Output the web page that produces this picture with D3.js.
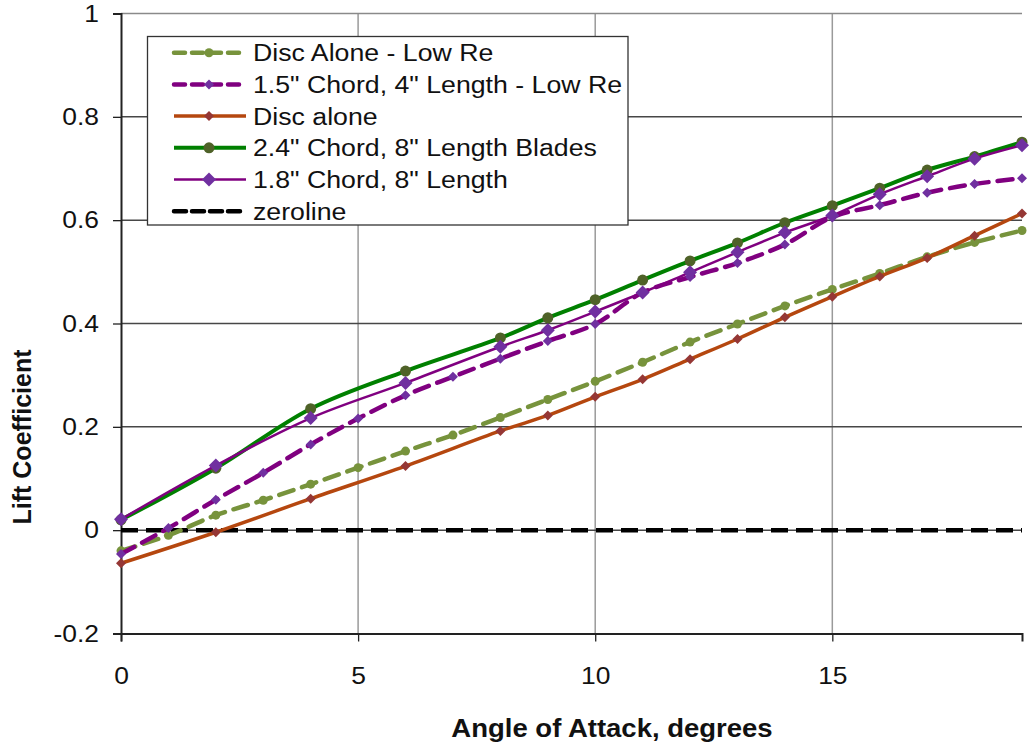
<!DOCTYPE html>
<html>
<head>
<meta charset="utf-8">
<script src="https://cdn.jsdelivr.net/npm/d3@7"></script>
<style>
  html, body { margin: 0; padding: 0; background: #fff; }
  svg { display: block; font-family: "Liberation Sans", Arial, sans-serif; }
</style>
</head>
<body>
<svg id="chart" width="1029" height="750"></svg>
<script>
// Angle of attack (degrees) for each measurement
const angles = [0, 1, 2, 3, 4, 5, 6, 7, 8, 9, 10, 11, 12, 13, 14, 15, 16, 17, 18, 19];

// Lift coefficient per configuration (null = not measured at that angle)
const discAloneLowRe = [-0.040, -0.010, 0.029, 0.058, 0.089, 0.121, 0.153, 0.184, 0.218, 0.253,
                        0.288, 0.325, 0.364, 0.399, 0.434, 0.466, 0.497, 0.529, 0.557, 0.580];
const chord15Len4LowRe = [-0.046, 0.004, 0.059, 0.111, 0.166, 0.216, 0.261, 0.297, 0.332, 0.366,
                          0.399, 0.460, 0.490, 0.517, 0.553, 0.606, 0.629, 0.653, 0.670, 0.681];
const discAlone = [-0.064, null, -0.004, null, 0.061, null, 0.124, null, 0.192, 0.222,
                   0.258, 0.292, 0.331, 0.370, 0.412, 0.452, 0.491, 0.527, 0.570, 0.613];
const chord24Len8 = [0.020, null, 0.120, null, 0.235, null, 0.308, null, 0.372, 0.411,
                     0.446, 0.484, 0.521, 0.556, 0.595, 0.628, 0.662, 0.697, 0.723, 0.751];
const chord18Len8 = [0.021, null, 0.125, null, 0.217, null, 0.285, null, 0.355, 0.387,
                     0.423, 0.460, 0.499, 0.538, 0.576, 0.609, 0.650, 0.685, 0.719, 0.745];
const zeroline = [0, 0, 0, 0, 0, 0, 0, 0, 0, 0, 0, 0, 0, 0, 0, 0, 0, 0, 0, 0];

const seriesNames = [
  "Disc Alone - Low Re",
  "1.5\" Chord, 4\" Length - Low Re",
  "Disc alone",
  "2.4\" Chord, 8\" Length Blades",
  "1.8\" Chord, 8\" Length",
  "zeroline"
];
const seriesValues = [discAloneLowRe, chord15Len4LowRe, discAlone, chord24Len8, chord18Len8, zeroline];

const xTicks = [0, 5, 10, 15];
const yTicks = [-0.2, 0, 0.2, 0.4, 0.6, 0.8, 1];
const yTickLabels = ["-0.2", "0", "0.2", "0.4", "0.6", "0.8", "1"];

// Styling for each series, same order as seriesNames
const styles = [
  { stroke: "#77933C", width: 4.5, dash: "15,9", cap: "round", marker: "circle",  mfill: "#77933C", msize: 4.5 },
  { stroke: "#800080", width: 4.5, dash: "15,9", cap: "round", marker: "diamond", mfill: "#7030A0", msize: 5 },
  { stroke: "#B5470F", width: 3.5, dash: null,   cap: "butt",  marker: "diamond", mfill: "#953735", msize: 5 },
  { stroke: "#008000", width: 4,   dash: null,   cap: "butt",  marker: "circle",  mfill: "#4F6228", msize: 5.5 },
  { stroke: "#800080", width: 2.5, dash: null,   cap: "butt",  marker: "diamond", mfill: "#7030A0", msize: 7 },
  { stroke: "#000000", width: 4.5, dash: "17,8", cap: "butt",  marker: null }
];

// Text in this chart is drawn slightly wide
const WIDE = 1.1;

const svg = d3.select("#chart");
const x = d3.scaleLinear().domain([0, 19]).range([121, 1022]);
const y = d3.scaleLinear().domain([-0.2, 1]).range([633.5, 13.5]);

// Gridlines
const grid = svg.append("g");
grid.selectAll("line.v").data(xTicks.filter(d => d > 0)).join("line")
  .attr("x1", d => x(d)).attr("x2", d => x(d))
  .attr("y1", y(1)).attr("y2", y(-0.2))
  .attr("stroke", "#9a9a9a").attr("stroke-width", 1.5);
grid.selectAll("line.h").data(yTicks.filter(d => d > -0.2)).join("line")
  .attr("x1", x(0)).attr("x2", x(19))
  .attr("y1", d => y(d)).attr("y2", d => y(d))
  .attr("stroke", d => d === 1 ? "#8a8a8a" : "#474747").attr("stroke-width", 1.5);

// Axes
const yAxis = svg.append("g").attr("transform", `translate(${x(0)},0)`)
  .call(d3.axisLeft(y).tickValues(yTicks).tickFormat((d, i) => yTickLabels[i]).tickSize(8).tickPadding(12));
const xAxis = svg.append("g").attr("transform", `translate(0,${y(-0.2)})`)
  .call(d3.axisBottom(x).tickValues(xTicks).tickSize(8).tickPadding(25));
[xAxis, yAxis].forEach(a => {
  a.select(".domain").attr("stroke", "#222").attr("stroke-width", 2);
  a.selectAll(".tick line").attr("stroke", "#222").attr("stroke-width", 1.3);
  a.selectAll("text").attr("font-size", 24).attr("fill", "#111")
    .attr("font-family", "'Liberation Sans', Arial, sans-serif")
    .attr("transform", `scale(${WIDE},1)`);
});

// Axis titles
svg.append("text").attr("transform", `translate(612,737) scale(${WIDE},1)`).attr("text-anchor", "middle")
  .attr("font-size", 25).attr("font-weight", "bold").attr("fill", "#111")
  .text("Angle of Attack, degrees");
svg.append("text").attr("transform", "translate(31,437) rotate(-90)").attr("text-anchor", "middle")
  .attr("font-size", 25).attr("font-weight", "bold").attr("fill", "#111")
  .text("Lift Coefficient");

// Series lines and markers
const diamond = s => `M0,${-s}L${s},0L0,${s}L${-s},0Z`;
function drawMarker(g, st, cx, cy) {
  if (st.marker === "circle") {
    g.append("circle").attr("cx", cx).attr("cy", cy).attr("r", st.msize).attr("fill", st.mfill);
  } else if (st.marker === "diamond") {
    g.append("path").attr("transform", `translate(${cx},${cy})`).attr("d", diamond(st.msize)).attr("fill", st.mfill);
  }
}

const plot = svg.append("g");
const drawOrder = [5, 0, 1, 2, 3, 4];
drawOrder.forEach(i => {
  const st = styles[i];
  const pts = angles.map((a, k) => [a, seriesValues[i][k]]).filter(p => p[1] !== null);
  const line = d3.line().x(p => x(p[0])).y(p => y(p[1]))
    .curve(i === 5 ? d3.curveLinear : d3.curveCatmullRom.alpha(0.5));
  const g = plot.append("g");
  g.append("path").datum(pts).attr("d", line).attr("fill", "none")
    .attr("stroke", st.stroke).attr("stroke-width", st.width)
    .attr("stroke-dasharray", st.dash).attr("stroke-linejoin", "round")
    .attr("stroke-linecap", st.cap);
  if (st.marker) pts.forEach(p => drawMarker(g, st, x(p[0]), y(p[1])));
});

// Legend
const legend = svg.append("g");
legend.append("rect").attr("x", 147.5).attr("y", 36.5).attr("width", 480.5).attr("height", 188.5)
  .attr("fill", "#fff").attr("stroke", "#333").attr("stroke-width", 1.3);
seriesNames.forEach((name, i) => {
  const st = styles[i];
  const cy = 52.7 + i * 31.7;
  const row = legend.append("g");
  row.append("line").attr("x1", 174).attr("x2", 246).attr("y1", cy).attr("y2", cy)
    .attr("stroke", st.stroke).attr("stroke-width", st.width)
    .attr("stroke-dasharray", st.dash ? (i === 5 ? "12,6" : "11,7") : null)
    .attr("stroke-linecap", st.dash ? "round" : "butt");
  if (st.marker) drawMarker(row, st, 209, cy);
  row.append("text").attr("transform", `translate(253,${cy + 8.5}) scale(1.09,1)`)
    .attr("font-size", 24.5).attr("fill", "#111")
    .text(name);
});
</script>
</body>
</html>
